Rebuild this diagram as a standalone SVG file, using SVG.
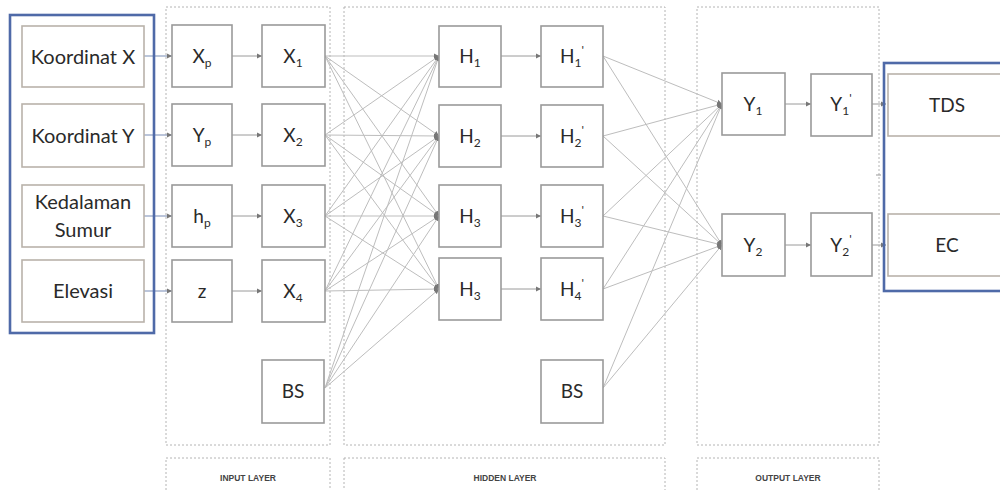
<svg xmlns="http://www.w3.org/2000/svg" width="1000" height="490" viewBox="0 0 1000 490">
<style>
.layer{fill:none;stroke:#b4b4b4;stroke-width:1;stroke-dasharray:2,2}
.node{fill:#fff;stroke:#9a9a9a;stroke-width:1.6}
.inode{fill:#fff;stroke:#b9b2aa;stroke-width:1.6}
.blue{fill:none;stroke:#4f6aa8;stroke-width:2.6}
.t{font-family:Lato,"Liberation Sans",sans-serif;font-size:19px;fill:#2a2a2a;text-anchor:middle}
.L{font-size:20px}
.s{font-size:12px}
.lab{font-family:"Liberation Sans",Arial,sans-serif;font-size:8.5px;font-weight:bold;fill:#444;text-anchor:middle}
.c{fill:none;stroke:#bdbdbd;stroke-width:1;marker-end:url(#ah)}
.cb{fill:none;stroke:#8e9fc2;stroke-width:1.2;marker-end:url(#ah)}
.cd{fill:none;stroke:#9a9a9a;stroke-width:1;marker-end:url(#ah)}
</style>
<defs>
<marker id="ah" markerUnits="userSpaceOnUse" markerWidth="6" markerHeight="6" refX="5" refY="3" orient="auto">
<path d="M0,0.5 L5,3 L0,5.5 Z" fill="#777"/>
</marker>
</defs>
<rect width="1000" height="490" fill="#fff"/>
<g id="layers">
<rect class="layer" x="166" y="7" width="164" height="438"/>
<rect class="layer" x="344" y="7" width="321" height="438"/>
<rect class="layer" x="697" y="7" width="182" height="438"/>
<rect class="layer" x="166" y="458" width="164" height="40"/>
<rect class="layer" x="344" y="458" width="321" height="40"/>
<rect class="layer" x="697" y="458" width="182" height="40"/>
<text class="lab" x="248" y="481">INPUT LAYER</text>
<text class="lab" x="505" y="481">HIDDEN LAYER</text>
<text class="lab" x="788" y="481">OUTPUT LAYER</text>
</g>
<g id="connectors">
<line class="cb" x1="144" y1="56" x2="172" y2="56"/>
<line class="cb" x1="144" y1="135" x2="172" y2="135"/>
<line class="cb" x1="144" y1="216" x2="172" y2="216"/>
<line class="cb" x1="144" y1="291" x2="172" y2="291"/>
<line class="cd" x1="232" y1="56" x2="262" y2="56"/>
<line class="cd" x1="232" y1="135" x2="262" y2="135"/>
<line class="cd" x1="232" y1="216" x2="262" y2="216"/>
<line class="cd" x1="232" y1="291" x2="262" y2="291"/>
<line class="c" x1="325" y1="56" x2="439" y2="56"/>
<line class="c" x1="325" y1="56" x2="439" y2="136"/>
<line class="c" x1="325" y1="56" x2="439" y2="216"/>
<line class="c" x1="325" y1="56" x2="439" y2="289"/>
<line class="c" x1="325" y1="135" x2="439" y2="56"/>
<line class="c" x1="325" y1="135" x2="439" y2="136"/>
<line class="c" x1="325" y1="135" x2="439" y2="216"/>
<line class="c" x1="325" y1="135" x2="439" y2="289"/>
<line class="c" x1="325" y1="216" x2="439" y2="56"/>
<line class="c" x1="325" y1="216" x2="439" y2="136"/>
<line class="c" x1="325" y1="216" x2="439" y2="216"/>
<line class="c" x1="325" y1="216" x2="439" y2="289"/>
<line class="c" x1="325" y1="291" x2="439" y2="56"/>
<line class="c" x1="325" y1="291" x2="439" y2="136"/>
<line class="c" x1="325" y1="291" x2="439" y2="216"/>
<line class="c" x1="325" y1="291" x2="439" y2="289"/>
<line class="c" x1="325" y1="388" x2="439" y2="56"/>
<line class="c" x1="325" y1="388" x2="439" y2="136"/>
<line class="c" x1="325" y1="388" x2="439" y2="216"/>
<line class="c" x1="325" y1="388" x2="439" y2="289"/>
<line class="cd" x1="501" y1="56" x2="541" y2="56"/>
<line class="cd" x1="501" y1="136" x2="541" y2="136"/>
<line class="cd" x1="501" y1="216" x2="541" y2="216"/>
<line class="cd" x1="501" y1="289" x2="541" y2="289"/>
<line class="c" x1="603" y1="56" x2="722" y2="104"/>
<line class="c" x1="603" y1="56" x2="722" y2="245"/>
<line class="c" x1="603" y1="136" x2="722" y2="104"/>
<line class="c" x1="603" y1="136" x2="722" y2="245"/>
<line class="c" x1="603" y1="216" x2="722" y2="104"/>
<line class="c" x1="603" y1="216" x2="722" y2="245"/>
<line class="c" x1="603" y1="289" x2="722" y2="104"/>
<line class="c" x1="603" y1="289" x2="722" y2="245"/>
<line class="c" x1="603" y1="388" x2="722" y2="104"/>
<line class="c" x1="603" y1="388" x2="722" y2="245"/>
<line class="cd" x1="785" y1="104" x2="811" y2="104"/>
<line class="cd" x1="785" y1="245" x2="811" y2="245"/>
<line class="cd" x1="872" y1="104" x2="886" y2="104"/>
<line class="cd" x1="872" y1="245" x2="886" y2="245"/>
<line x1="876" y1="175" x2="881" y2="175" stroke="#999" stroke-width="1"/>
</g>
<g id="input-group"><rect class="blue" x="10" y="15" width="144" height="318"/></g>
<g id="koordinat-x"><rect class="inode" x="22" y="26" width="122" height="61"/><text class="t L" x="83" y="64">Koordinat X</text></g>
<g id="koordinat-y"><rect class="inode" x="22" y="104" width="122" height="63"/><text class="t L" x="83" y="143">Koordinat Y</text></g>
<g id="kedalaman"><rect class="inode" x="22" y="185" width="122" height="62"/><text class="t L" x="83" y="209">Kedalaman</text><text class="t L" x="83" y="237">Sumur</text></g>
<g id="elevasi"><rect class="inode" x="22" y="260" width="122" height="62"/><text class="t L" x="83" y="298">Elevasi</text></g>
<g id="xp"><rect class="node" x="172" y="25" width="60" height="62"/><text class="t" x="202" y="63">X<tspan class="s" dy="4">p</tspan></text></g>
<g id="yp"><rect class="node" x="172" y="104" width="60" height="62"/><text class="t" x="202" y="142">Y<tspan class="s" dy="4">p</tspan></text></g>
<g id="hp"><rect class="node" x="172" y="185" width="60" height="62"/><text class="t" x="202" y="223">h<tspan class="s" dy="4">p</tspan></text></g>
<g id="z"><rect class="node" x="172" y="260" width="60" height="62"/><text class="t" x="202" y="298">z</text></g>
<g id="x1"><rect class="node" x="262" y="25" width="63" height="62"/><text class="t" x="293" y="63">X<tspan class="s" dy="4">1</tspan></text></g>
<g id="x2"><rect class="node" x="262" y="104" width="63" height="62"/><text class="t" x="293" y="142">X<tspan class="s" dy="4">2</tspan></text></g>
<g id="x3"><rect class="node" x="262" y="185" width="63" height="62"/><text class="t" x="293" y="223">X<tspan class="s" dy="4">3</tspan></text></g>
<g id="x4"><rect class="node" x="262" y="260" width="63" height="62"/><text class="t" x="293" y="298">X<tspan class="s" dy="4">4</tspan></text></g>
<g id="bs-in"><rect class="node" x="262" y="360" width="62" height="63"/><text class="t" x="293" y="398">BS</text></g>
<g id="h1"><rect class="node" x="439" y="26" width="62" height="61"/><text class="t" x="470" y="63">H<tspan class="s" dy="4">1</tspan></text></g>
<g id="h2"><rect class="node" x="439" y="105" width="62" height="62"/><text class="t" x="470" y="143">H<tspan class="s" dy="4">2</tspan></text></g>
<g id="h3"><rect class="node" x="439" y="185" width="62" height="62"/><text class="t" x="470" y="223">H<tspan class="s" dy="4">3</tspan></text></g>
<g id="h4"><rect class="node" x="439" y="258" width="62" height="62"/><text class="t" x="470" y="296">H<tspan class="s" dy="4">3</tspan></text></g>
<g id="h1p"><rect class="node" x="541" y="26" width="62" height="61"/><text class="t" x="572" y="63">H<tspan class="s" dy="4">1</tspan><tspan class="s" dy="-13">'</tspan></text></g>
<g id="h2p"><rect class="node" x="541" y="105" width="62" height="62"/><text class="t" x="572" y="143">H<tspan class="s" dy="4">2</tspan><tspan class="s" dy="-13">'</tspan></text></g>
<g id="h3p"><rect class="node" x="541" y="185" width="62" height="62"/><text class="t" x="572" y="223">H<tspan class="s" dy="4">3</tspan><tspan class="s" dy="-13">'</tspan></text></g>
<g id="h4p"><rect class="node" x="541" y="258" width="62" height="62"/><text class="t" x="572" y="296">H<tspan class="s" dy="4">4</tspan><tspan class="s" dy="-13">'</tspan></text></g>
<g id="bs-hid"><rect class="node" x="541" y="360" width="62" height="63"/><text class="t" x="572" y="398">BS</text></g>
<g id="y1"><rect class="node" x="722" y="73" width="63" height="62"/><text class="t" x="753" y="111">Y<tspan class="s" dy="4">1</tspan></text></g>
<g id="y2"><rect class="node" x="722" y="214" width="63" height="62"/><text class="t" x="753" y="252">Y<tspan class="s" dy="4">2</tspan></text></g>
<g id="y1p"><rect class="node" x="811" y="74" width="61" height="62"/><text class="t" x="841" y="111">Y<tspan class="s" dy="4">1</tspan><tspan class="s" dy="-13">'</tspan></text></g>
<g id="y2p"><rect class="node" x="811" y="213" width="61" height="63"/><text class="t" x="841" y="252">Y<tspan class="s" dy="4">2</tspan><tspan class="s" dy="-13">'</tspan></text></g>
<g id="output-group"><rect class="blue" x="884" y="63" width="130" height="228"/></g>
<g id="tds"><rect class="inode" x="888" y="74" width="130" height="62"/><text class="t" x="947" y="112">TDS</text></g>
<g id="ec"><rect class="inode" x="888" y="214" width="130" height="62"/><text class="t" x="947" y="252">EC</text></g>
</svg>
